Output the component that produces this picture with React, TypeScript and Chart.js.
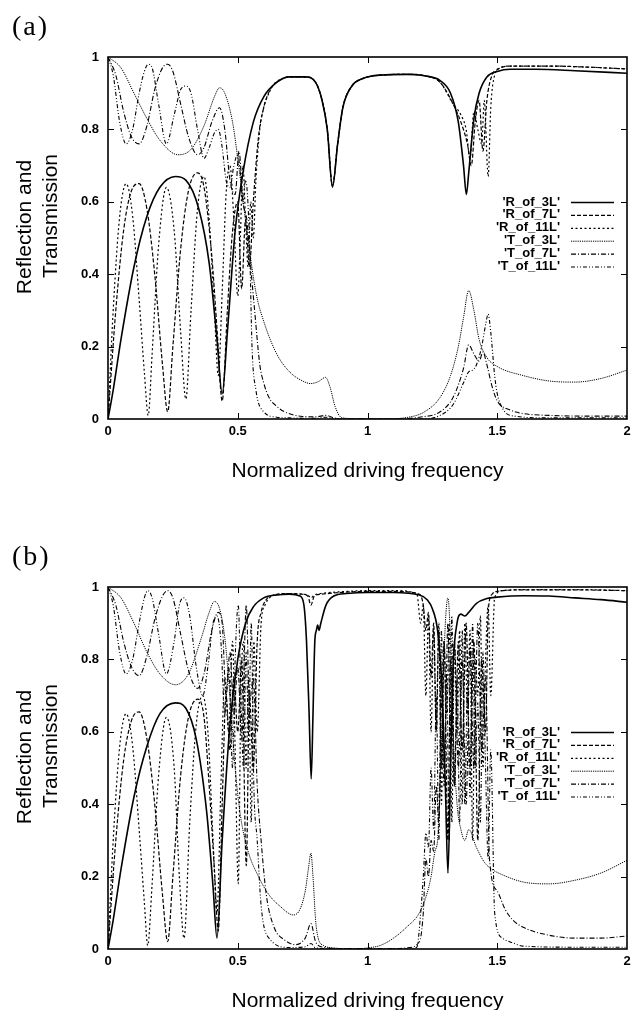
import React, { useEffect, useRef } from 'react';
import { Chart, registerables } from 'chart.js';

Chart.register(...registerables);

const SANS = "'Liberation Sans', Arial, Helvetica, sans-serif";
const SERIF = "'Liberation Serif', 'DejaVu Serif', serif";

// ---------- labels ----------
const SERIES_LABELS = ["'R_of_3L'", "'R_of_7L'", "'R_of_11L'", "'T_of_3L'", "'T_of_7L'", "'T_of_11L'"];
const X_TICKS = [0, 0.5, 1, 1.5, 2];
const Y_TICKS = [0, 0.2, 0.4, 0.6, 0.8, 1];
const X_TITLE = 'Normalized driving frequency';
const Y_TITLE = ['Reflection and', 'Transmission'];
const PANEL_LETTERS = ['(a)', '(b)'];

// ---------- panel (a) ----------
const A_R3_X = [0,0.02,0.05,0.1,0.15,0.2,0.26,0.3,0.35,0.39,0.42,0.44,0.46,0.49,0.52,0.56,0.6,0.65,0.7,0.76,0.8,0.825,0.845,0.865,0.885,0.905,0.94,0.98,1.05,1.15,1.22,1.28,1.32,1.35,1.37,1.381,1.39,1.41,1.43,1.46,1.5,1.55,1.65,1.8,2.0];
const A_R3_Y = [0,0.08,0.22,0.42,0.56,0.64,0.67,0.66,0.58,0.43,0.22,0.07,0.24,0.52,0.68,0.82,0.89,0.93,0.945,0.945,0.93,0.88,0.8,0.64,0.76,0.86,0.92,0.94,0.95,0.952,0.948,0.935,0.9,0.82,0.7,0.62,0.68,0.83,0.9,0.945,0.96,0.966,0.966,0.962,0.955];

const A_R7_X = [0,0.03,0.06,0.09,0.12,0.15,0.18,0.21,0.23,0.25,0.28,0.31,0.345,0.37,0.4,0.42,0.44,0.46,0.48,0.5,0.515,0.53,0.545,0.56,0.58,0.6,0.625,0.66,0.7,0.76,0.8,0.825,0.845,0.865,0.885,0.905,0.94,0.98,1.05,1.15,1.22,1.28,1.33,1.36,1.385,1.4,1.415,1.43,1.445,1.46,1.48,1.5,1.55,1.7,1.85,2.0];
const A_R7_Y = [0,0.3,0.52,0.63,0.65,0.58,0.4,0.15,0.02,0.2,0.47,0.63,0.68,0.64,0.45,0.25,0.05,0.3,0.52,0.6,0.36,0.55,0.42,0.6,0.78,0.86,0.91,0.935,0.945,0.945,0.93,0.88,0.8,0.645,0.76,0.86,0.92,0.94,0.95,0.952,0.948,0.93,0.87,0.82,0.76,0.7,0.82,0.88,0.74,0.88,0.95,0.965,0.975,0.975,0.972,0.967];

const A_R11_X = [0,0.02,0.045,0.07,0.095,0.12,0.14,0.155,0.17,0.195,0.225,0.255,0.28,0.3,0.32,0.345,0.37,0.39,0.41,0.425,0.44,0.455,0.47,0.485,0.5,0.51,0.52,0.53,0.54,0.55,0.56,0.57,0.585,0.6,0.62,0.64,0.67,0.7,0.76,0.8,0.825,0.845,0.865,0.885,0.905,0.94,0.98,1.05,1.15,1.22,1.28,1.33,1.36,1.38,1.395,1.41,1.425,1.44,1.45,1.465,1.475,1.49,1.51,1.55,1.7,1.85,2.0];
const A_R11_Y = [0,0.3,0.56,0.65,0.56,0.33,0.13,0.01,0.18,0.48,0.64,0.52,0.24,0.055,0.3,0.58,0.67,0.55,0.3,0.12,0.35,0.62,0.7,0.55,0.34,0.5,0.7,0.55,0.42,0.6,0.5,0.66,0.8,0.86,0.9,0.925,0.94,0.945,0.945,0.93,0.88,0.8,0.645,0.76,0.86,0.92,0.94,0.95,0.952,0.948,0.93,0.87,0.84,0.8,0.72,0.85,0.8,0.76,0.88,0.67,0.86,0.95,0.97,0.975,0.975,0.972,0.967];

const A_T3_X = [0,0.05,0.1,0.15,0.2,0.27,0.32,0.37,0.41,0.43,0.45,0.48,0.5,0.53,0.57,0.6,0.65,0.7,0.75,0.78,0.81,0.838,0.855,0.875,0.9,0.95,1.05,1.15,1.22,1.28,1.32,1.35,1.37,1.39,1.41,1.43,1.46,1.5,1.6,1.7,1.8,1.9,2.0];
const A_T3_Y = [1,0.97,0.9,0.83,0.77,0.73,0.745,0.81,0.89,0.915,0.9,0.82,0.72,0.55,0.35,0.27,0.18,0.13,0.105,0.098,0.103,0.115,0.09,0.035,0.004,0.001,0,0.004,0.02,0.06,0.12,0.2,0.28,0.355,0.3,0.22,0.17,0.145,0.12,0.105,0.102,0.112,0.135];

const A_T7_X = [0,0.03,0.06,0.09,0.12,0.15,0.18,0.21,0.23,0.25,0.28,0.31,0.345,0.37,0.4,0.43,0.45,0.47,0.49,0.505,0.52,0.535,0.55,0.565,0.585,0.6,0.62,0.65,0.68,0.75,0.8,0.84,0.87,0.9,1.1,1.2,1.28,1.33,1.37,1.39,1.41,1.43,1.445,1.46,1.48,1.5,1.55,1.6,1.7,1.85,2.0];
const A_T7_Y = [1,0.95,0.85,0.78,0.76,0.81,0.91,0.97,0.98,0.96,0.87,0.78,0.73,0.75,0.82,0.86,0.8,0.66,0.62,0.74,0.6,0.55,0.42,0.3,0.15,0.1,0.06,0.035,0.02,0.007,0.006,0.01,0.003,0,0,0.005,0.02,0.06,0.14,0.205,0.18,0.16,0.185,0.15,0.09,0.05,0.025,0.015,0.01,0.008,0.008];

const A_T11_X = [0,0.02,0.045,0.07,0.095,0.12,0.14,0.155,0.17,0.195,0.225,0.255,0.28,0.3,0.32,0.345,0.37,0.39,0.41,0.425,0.44,0.455,0.47,0.485,0.5,0.51,0.52,0.53,0.545,0.555,0.57,0.6,0.65,0.7,0.8,0.84,0.87,0.9,1.2,1.28,1.33,1.37,1.39,1.405,1.42,1.44,1.455,1.465,1.475,1.49,1.5,1.52,1.55,1.7,2.0];
const A_T11_Y = [1,0.95,0.82,0.76,0.8,0.9,0.96,0.98,0.97,0.87,0.76,0.84,0.91,0.92,0.9,0.8,0.72,0.75,0.79,0.8,0.75,0.66,0.64,0.7,0.73,0.68,0.6,0.66,0.5,0.2,0.08,0.02,0.005,0.003,0.002,0.005,0.001,0,0,0.01,0.04,0.1,0.13,0.135,0.15,0.2,0.26,0.29,0.24,0.12,0.07,0.03,0.01,0.003,0.003];

// ---------- panel (b) ----------
const B_R3_X = [0,0.02,0.05,0.1,0.15,0.2,0.26,0.3,0.34,0.38,0.405,0.42,0.44,0.47,0.5,0.53,0.56,0.6,0.65,0.7,0.74,0.755,0.765,0.775,0.783,0.79,0.797,0.803,0.808,0.813,0.82,0.84,0.87,0.92,1.0,1.1,1.2,1.23,1.25,1.27,1.285,1.3,1.31,1.32,1.33,1.345,1.36,1.375,1.39,1.42,1.46,1.5,1.6,1.7,1.8,1.9,2.0];
const B_R3_Y = [0,0.08,0.22,0.42,0.56,0.65,0.68,0.665,0.58,0.38,0.17,0.03,0.3,0.62,0.8,0.9,0.945,0.97,0.978,0.98,0.975,0.95,0.85,0.65,0.47,0.65,0.85,0.88,0.895,0.88,0.9,0.95,0.975,0.982,0.985,0.985,0.978,0.965,0.94,0.88,0.75,0.45,0.21,0.5,0.78,0.9,0.925,0.92,0.93,0.955,0.968,0.972,0.976,0.975,0.97,0.965,0.958];

const B_R7_X = [0,0.03,0.06,0.09,0.12,0.15,0.18,0.21,0.23,0.25,0.28,0.31,0.345,0.37,0.39,0.41,0.425,0.44,0.455,0.47,0.485,0.5,0.515,0.533,0.545,0.56,0.575,0.59,0.61,0.64,0.7,0.75,0.77,0.782,0.795,0.82,0.9,1.0,1.1,1.2,1.215,1.225,1.235,1.245,1.255,1.265,1.275,1.285,1.295,1.31,1.32,1.335,1.35,1.365,1.38,1.395,1.41,1.425,1.44,1.455,1.465,1.48,1.5,1.6,1.8,2.0];
const B_R7_Y = [0,0.3,0.52,0.63,0.655,0.58,0.4,0.15,0.02,0.2,0.48,0.64,0.69,0.64,0.45,0.22,0.05,0.4,0.7,0.55,0.75,0.6,0.8,0.23,0.7,0.5,0.85,0.93,0.965,0.978,0.982,0.98,0.975,0.95,0.975,0.98,0.985,0.988,0.988,0.98,0.95,0.88,0.93,0.75,0.9,0.6,0.88,0.5,0.85,0.3,0.8,0.45,0.85,0.55,0.9,0.5,0.85,0.3,0.8,0.6,0.93,0.98,0.988,0.992,0.992,0.99];

const B_R11_X = [0,0.02,0.045,0.07,0.095,0.12,0.14,0.153,0.17,0.195,0.225,0.255,0.275,0.293,0.315,0.34,0.365,0.385,0.405,0.42,0.435,0.45,0.465,0.48,0.49,0.502,0.512,0.522,0.532,0.542,0.552,0.562,0.575,0.59,0.605,0.625,0.66,0.7,0.75,0.77,0.782,0.795,0.82,0.9,1.0,1.1,1.19,1.205,1.215,1.225,1.235,1.245,1.255,1.265,1.275,1.285,1.295,1.305,1.315,1.325,1.335,1.345,1.355,1.365,1.375,1.385,1.395,1.405,1.415,1.425,1.435,1.445,1.455,1.465,1.475,1.49,1.52,1.6,1.8,2.0];
const B_R11_Y = [0,0.3,0.56,0.65,0.56,0.33,0.13,0.01,0.18,0.48,0.64,0.5,0.2,0.03,0.35,0.62,0.7,0.6,0.3,0.1,0.45,0.75,0.6,0.85,0.55,0.18,0.7,0.85,0.5,0.75,0.35,0.85,0.6,0.9,0.95,0.972,0.98,0.982,0.98,0.978,0.97,0.978,0.982,0.987,0.99,0.99,0.982,0.9,0.95,0.7,0.92,0.6,0.88,0.62,0.9,0.4,0.85,0.65,0.9,0.35,0.85,0.6,0.88,0.4,0.9,0.65,0.88,0.3,0.8,0.7,0.92,0.5,0.8,0.95,0.7,0.97,0.99,0.993,0.993,0.99];

const B_T3_X = [0,0.05,0.1,0.15,0.2,0.26,0.31,0.36,0.39,0.41,0.43,0.45,0.47,0.49,0.51,0.54,0.58,0.62,0.66,0.715,0.74,0.76,0.772,0.782,0.79,0.8,0.81,0.83,0.87,0.95,1.0,1.05,1.1,1.15,1.2,1.23,1.245,1.26,1.27,1.28,1.29,1.3,1.31,1.32,1.33,1.345,1.36,1.375,1.39,1.42,1.45,1.48,1.52,1.6,1.7,1.8,1.9,2.0];
const B_T3_Y = [1,0.97,0.9,0.82,0.76,0.73,0.76,0.86,0.93,0.96,0.94,0.86,0.7,0.5,0.37,0.27,0.2,0.15,0.12,0.094,0.11,0.16,0.22,0.265,0.2,0.08,0.03,0.01,0.003,0,0.003,0.01,0.03,0.06,0.1,0.155,0.2,0.27,0.3,0.45,0.7,0.9,0.97,0.85,0.6,0.4,0.33,0.3,0.33,0.28,0.24,0.22,0.205,0.185,0.18,0.19,0.21,0.245];

const B_T7_X = [0,0.03,0.06,0.09,0.12,0.15,0.18,0.21,0.23,0.25,0.28,0.31,0.345,0.37,0.4,0.425,0.44,0.455,0.47,0.485,0.5,0.515,0.533,0.545,0.56,0.575,0.59,0.61,0.64,0.68,0.72,0.76,0.782,0.8,0.83,0.9,1.1,1.15,1.2,1.215,1.225,1.235,1.245,1.255,1.265,1.275,1.285,1.295,1.31,1.32,1.335,1.35,1.365,1.38,1.395,1.41,1.425,1.44,1.455,1.47,1.5,1.53,1.56,1.6,1.7,1.8,1.9,2.0];
const B_T7_Y = [1,0.95,0.85,0.78,0.755,0.81,0.91,0.975,0.99,0.97,0.87,0.77,0.72,0.76,0.88,0.93,0.9,0.7,0.82,0.65,0.78,0.58,0.95,0.68,0.75,0.45,0.3,0.15,0.06,0.025,0.012,0.03,0.07,0.02,0.005,0.001,0.001,0.003,0.02,0.1,0.25,0.2,0.3,0.27,0.45,0.35,0.7,0.45,0.9,0.55,0.85,0.5,0.8,0.4,0.83,0.5,0.9,0.55,0.75,0.25,0.16,0.11,0.08,0.06,0.038,0.03,0.03,0.036];

const B_T11_X = [0,0.02,0.045,0.07,0.095,0.12,0.14,0.153,0.17,0.195,0.225,0.255,0.275,0.293,0.315,0.34,0.365,0.385,0.405,0.42,0.435,0.45,0.465,0.48,0.49,0.502,0.512,0.522,0.532,0.542,0.552,0.562,0.575,0.59,0.62,0.7,0.76,0.782,0.8,0.9,1.15,1.19,1.205,1.215,1.225,1.235,1.245,1.255,1.265,1.275,1.285,1.295,1.305,1.315,1.325,1.335,1.345,1.355,1.365,1.375,1.385,1.395,1.405,1.415,1.425,1.435,1.445,1.455,1.465,1.475,1.49,1.52,1.56,1.6,1.8,2.0];
const B_T11_Y = [1,0.95,0.82,0.76,0.8,0.9,0.97,0.99,0.97,0.87,0.76,0.85,0.95,0.97,0.92,0.78,0.7,0.78,0.9,0.92,0.85,0.65,0.78,0.5,0.8,0.95,0.7,0.5,0.82,0.6,0.9,0.45,0.3,0.12,0.03,0.004,0.006,0.015,0.003,0,0,0.005,0.1,0.2,0.32,0.28,0.5,0.33,0.7,0.3,0.88,0.5,0.75,0.3,0.92,0.45,0.75,0.35,0.88,0.4,0.72,0.42,0.9,0.5,0.68,0.35,0.82,0.5,0.25,0.55,0.1,0.03,0.017,0.008,0.005,0.005];

// ---------- styles ----------
const LINE_STYLES = [
  { width: 1.6, dash: [] as number[] },
  { width: 1.2, dash: [4, 2] },
  { width: 1.2, dash: [2, 2.5] },
  { width: 1.0, dash: [1.2, 1] },
  { width: 1.1, dash: [5, 2, 1, 2] },
  { width: 1.1, dash: [4, 2, 1, 2, 1, 2] },
];

const PANEL_A = [[A_R3_X, A_R3_Y], [A_R7_X, A_R7_Y], [A_R11_X, A_R11_Y], [A_T3_X, A_T3_Y], [A_T7_X, A_T7_Y], [A_T11_X, A_T11_Y]];
const PANEL_B = [[B_R3_X, B_R3_Y], [B_R7_X, B_R7_Y], [B_R11_X, B_R11_Y], [B_T3_X, B_T3_Y], [B_T7_X, B_T7_Y], [B_T11_X, B_T11_Y]];

const CANVAS_W = 636;
const CANVAS_H = 505;

const framePlugin = {
  id: 'frameTicks',
  afterDatasetsDraw(chart: any) {
    const { ctx, chartArea: a, scales } = chart;
    ctx.save();
    ctx.strokeStyle = '#000';
    ctx.setLineDash([]);
    ctx.lineWidth = 1;
    const L = 6;
    ctx.beginPath();
    for (const t of scales.x.ticks) {
      if (t.value <= scales.x.min || t.value >= scales.x.max) continue;
      const px = Math.round(scales.x.getPixelForValue(t.value)) + 0.5;
      ctx.moveTo(px, a.bottom); ctx.lineTo(px, a.bottom - L);
      ctx.moveTo(px, a.top); ctx.lineTo(px, a.top + L);
    }
    for (const t of scales.y.ticks) {
      if (t.value <= scales.y.min || t.value >= scales.y.max) continue;
      const py = Math.round(scales.y.getPixelForValue(t.value)) + 0.5;
      ctx.moveTo(a.left, py); ctx.lineTo(a.left + L, py);
      ctx.moveTo(a.right, py); ctx.lineTo(a.right - L, py);
    }
    ctx.stroke();
    ctx.lineWidth = 1.6;
    ctx.strokeRect(a.left, a.top, a.right - a.left, a.bottom - a.top);
    ctx.restore();
  },
};

const legendPlugin = {
  id: 'rightLegend',
  afterDatasetsDraw(chart: any, _args: any, opts: any) {
    const { ctx, chartArea: a } = chart;
    ctx.save();
    ctx.font = opts.font;
    ctx.textAlign = 'right';
    ctx.textBaseline = 'middle';
    ctx.fillStyle = '#000';
    ctx.strokeStyle = '#000';
    chart.data.datasets.forEach((ds: any, i: number) => {
      const y = a.top + opts.top + i * opts.spacing;
      ctx.fillText(ds.label, opts.textRight, y);
      ctx.setLineDash(ds.borderDash || []);
      ctx.lineWidth = ds.borderWidth;
      ctx.beginPath();
      ctx.moveTo(opts.lineStart, y + 0.5);
      ctx.lineTo(opts.lineEnd, y + 0.5);
      ctx.stroke();
    });
    ctx.restore();
  },
};

const textPlugin = {
  id: 'panelText',
  afterDraw(chart: any, _args: any, opts: any) {
    const { ctx, chartArea: a } = chart;
    ctx.save();
    ctx.fillStyle = '#000';
    // panel letter
    ctx.font = `28px ${SERIF}`;
    try { (ctx as any).letterSpacing = '2px'; } catch (e) { /* ignore */ }
    ctx.textAlign = 'left';
    ctx.textBaseline = 'middle';
    ctx.fillText(opts.letter, 12, 28);
    try { (ctx as any).letterSpacing = '0px'; } catch (e) { /* ignore */ }
    // rotated y-axis title (two lines)
    ctx.font = `21px ${SANS}`;
    ctx.textAlign = 'center';
    const mid = (a.top + a.bottom) / 2;
    opts.lines.forEach((line: string, i: number) => {
      ctx.save();
      ctx.translate(opts.lineX[i], mid + opts.lineDy[i]);
      ctx.rotate(-Math.PI / 2);
      ctx.fillText(line, 0, 0);
      ctx.restore();
    });
    ctx.restore();
  },
};

function Panel({ top, letter, series }: { top: number; letter: string; series: number[][][] }) {
  const ref = useRef<HTMLCanvasElement>(null);
  useEffect(() => {
    const datasets = series.map(([xs, ys], i) => ({
      label: SERIES_LABELS[i],
      data: xs.map((x, j) => ({ x, y: ys[j] })),
      borderColor: '#000',
      backgroundColor: '#000',
      borderWidth: LINE_STYLES[i].width,
      borderDash: LINE_STYLES[i].dash,
      pointRadius: 0,
      fill: false,
      cubicInterpolationMode: 'monotone' as const,
    }));
    const chart = new Chart(ref.current!, {
      type: 'line',
      data: { datasets },
      options: {
        animation: false,
        responsive: false,
        devicePixelRatio: 1,
        events: [],
        layout: { padding: { top: 57, right: 9, left: 0, bottom: 0 } },
        plugins: {
          legend: { display: false },
          tooltip: { enabled: false },
          rightLegend: { font: `bold 13px ${SANS}`, top: 145, spacing: 12.9, textRight: 560, lineStart: 571, lineEnd: 614 },
          panelText: { letter, lines: Y_TITLE, lineX: [25, 51], lineDy: [-11, -22] },
        } as any,
        scales: {
          x: {
            type: 'linear',
            min: 0,
            max: 2,
            afterBuildTicks: (axis: any) => { axis.ticks = X_TICKS.map((v) => ({ value: v })); },
            afterFit: (s: any) => { s.height = CANVAS_H - 419; },
            grid: { display: false, drawTicks: false },
            border: { display: false },
            ticks: {
              padding: 5,
              color: '#000',
              font: { family: SANS, size: 13, weight: 'bold' },
              maxRotation: 0,
              callback: (v: any) => String(v),
            },
            title: {
              display: true,
              text: X_TITLE,
              color: '#000',
              font: { family: SANS, size: 21, lineHeight: 1.2 },
              padding: { top: 0, bottom: 21 },
            },
          },
          y: {
            type: 'linear',
            min: 0,
            max: 1,
            afterBuildTicks: (axis: any) => { axis.ticks = Y_TICKS.map((v) => ({ value: v })); },
            afterFit: (s: any) => { s.width = 108; },
            grid: { display: false, drawTicks: false },
            border: { display: false },
            ticks: {
              padding: 9,
              color: '#000',
              font: { family: SANS, size: 13, weight: 'bold' },
              callback: (v: any) => String(v),
            },
            title: { display: false },
          },
        },
      } as any,
      plugins: [framePlugin, legendPlugin, textPlugin],
    });
    return () => chart.destroy();
  }, []);
  return (
    <canvas
      ref={ref}
      width={CANVAS_W}
      height={CANVAS_H}
      style={{ position: 'absolute', left: 0, top, width: CANVAS_W, height: CANVAS_H, display: 'block' }}
    />
  );
}

export default function App() {
  return (
    <div style={{ position: 'absolute', left: 0, top: 0, width: 636, height: 1010, overflow: 'hidden', background: '#fff' }}>
      <Panel top={0} letter={PANEL_LETTERS[0]} series={PANEL_A} />
      <Panel top={530} letter={PANEL_LETTERS[1]} series={PANEL_B} />
    </div>
  );
}
